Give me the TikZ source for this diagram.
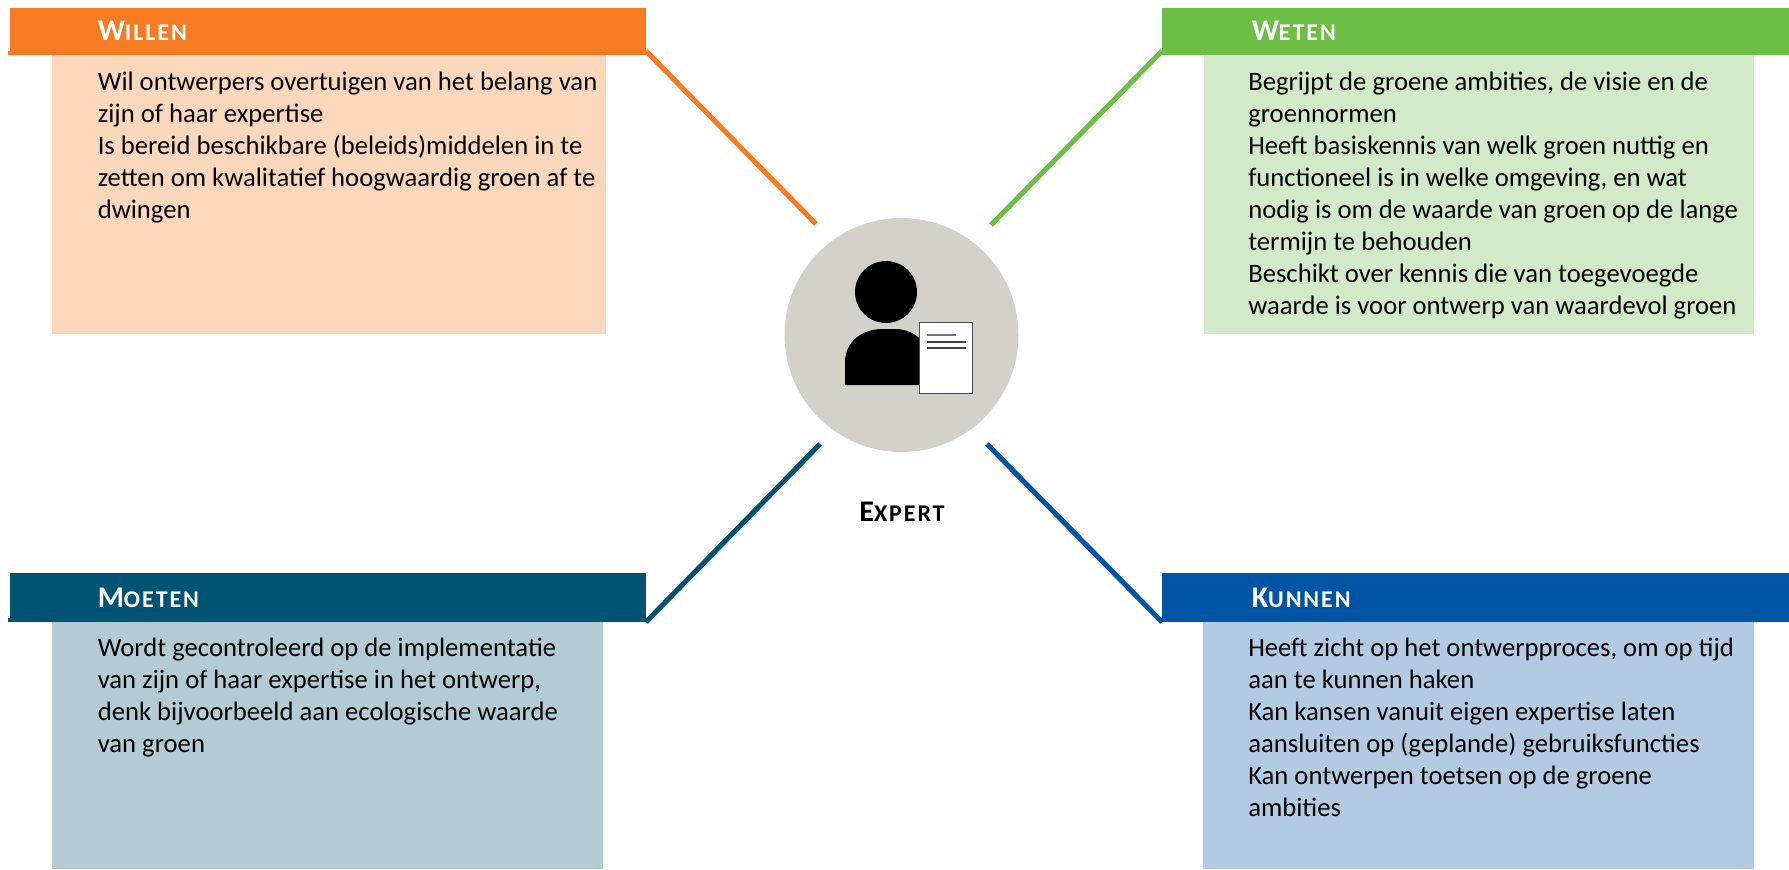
\documentclass[tikz,border=0pt]{standalone}
\usepackage{fontspec}
\setmainfont{Carlito}
\definecolor{orA}{HTML}{F77B22}\definecolor{orB}{HTML}{FBD7BC}
\definecolor{grA}{HTML}{6DBE45}\definecolor{grB}{HTML}{D3EAC8}
\definecolor{teA}{HTML}{005373}\definecolor{teB}{HTML}{B2CBD5}
\definecolor{blA}{HTML}{0054A4}\definecolor{blB}{HTML}{B3CBE2}
\definecolor{circ}{HTML}{D3D1CA}
\newcommand{\bigc}[1]{{\fontsize{22.5pt}{24pt}\selectfont\addfontfeature{LetterSpace=6}#1}}
\newcommand{\smc}[1]{{\fontsize{18pt}{24pt}\selectfont\addfontfeature{LetterSpace=8}#1}}
\tikzset{
 pxbox/.style={inner sep=0pt,outer sep=0pt,draw=none,anchor=north west,rectangle},
 headtxt/.style={inner sep=0pt,anchor=base west,text=white,font=\bfseries},
 bodytxt/.style={inner sep=0pt,anchor=north west,align=left,font=\fontsize{20pt}{24pt}\selectfont,text=black},
 conn/.style={line width=3.8pt}
}
\begin{document}
\begin{tikzpicture}[x=0.75pt,y=-0.75pt]
\useasboundingbox (0,0) rectangle (1789,869);
% bodies
\node[pxbox,fill=orB,minimum width=554*0.75pt,minimum height=279*0.75pt] (b1) at (52,55) {};
\node[pxbox,fill=grB,minimum width=550*0.75pt,minimum height=279*0.75pt] (b2) at (1204,55) {};
\node[pxbox,fill=teB,minimum width=551*0.75pt,minimum height=247*0.75pt] (b3) at (52,622) {};
\node[pxbox,fill=blB,minimum width=551*0.75pt,minimum height=247*0.75pt] (b4) at (1203,622) {};
% headers
\node[pxbox,fill=orA,minimum width=636*0.75pt,minimum height=47*0.75pt] (h1) at (10,8) {};
\node[pxbox,fill=grA,minimum width=627*0.75pt,minimum height=47*0.75pt] (h2) at (1162,8) {};
\node[pxbox,fill=teA,minimum width=636*0.75pt,minimum height=49*0.75pt] (h3) at (10,573) {};
\node[pxbox,fill=blA,minimum width=627*0.75pt,minimum height=49*0.75pt] (h4) at (1162,573) {};
\fill[orA] (8,51) rectangle (10,55);
\fill[teA] (8,618) rectangle (10,622);
\node[headtxt] (t1) at (97.5,40) {\bigc{W}\smc{ILLEN}};
\node[headtxt] (t2) at (1251.5,40) {\bigc{W}\smc{ETEN}};
\node[headtxt] (t3) at (97.5,607) {\bigc{M}\smc{OETEN}};
\node[headtxt] (t4) at (1251.5,607) {\bigc{K}\smc{UNNEN}};
% body text
\node[bodytxt] (x1) at (97.5,71.5) {Wil ontwerpers overtuigen van het belang van\\zijn of haar expertise\\Is bereid beschikbare (beleids)middelen in te\\zetten om kwalitatief hoogwaardig groen af te\\dwingen};
\node[bodytxt] (x2) at (1248,71.5) {Begrijpt de groene ambities, de visie en de\\groennormen\\Heeft basiskennis van welk groen nuttig en\\functioneel is in welke omgeving, en wat\\nodig is om de waarde van groen op de lange\\termijn te behouden\\Beschikt over kennis die van toegevoegde\\waarde is voor ontwerp van waardevol groen};
\node[bodytxt] (x3) at (97.5,638) {Wordt gecontroleerd op de implementatie\\van zijn of haar expertise in het ontwerp,\\denk bijvoorbeeld aan ecologische waarde\\van groen};
\node[bodytxt] (x4) at (1248,638) {Heeft zicht op het ontwerpproces, om op tijd\\aan te kunnen haken\\Kan kansen vanuit eigen expertise laten\\aansluiten op (geplande) gebruiksfuncties\\Kan ontwerpen toetsen op de groene\\ambities};
% circle
\node[circle,fill=circ,minimum size=234*0.75pt,inner sep=0pt] (c) at (901.5,335) {};
\fill[black] (886,292) circle (31);
\fill[black] (845,385) -- (845,362) .. controls (845,342) and (862,329) .. (882,329) -- (895,329) .. controls (905,329) and (915,333) .. (921,340) -- (921,385) -- cycle;
\node[pxbox,fill=white,draw=black!70,line width=0.8pt,minimum width=53*0.75pt,minimum height=71*0.75pt] (doc) at (919.5,322.5) {};
\draw[black!55,line width=1pt] (927,335) -- (956,335);
\draw[black!75,line width=1pt] (927,342) -- (966,342);
\draw[black!75,line width=1pt] (927,348) -- (966,348);
\node[inner sep=0pt,anchor=base,font=\bfseries] (e) at (902,521) {\bigc{E}\smc{XPERT}};
% connectors
\coordinate (c1) at (816,224);
\coordinate (c2) at (991,225);
\coordinate (c3) at (820,444);
\coordinate (c4) at (987,444);
\draw[conn,orA] ([yshift=3pt]h1.south east) -- (c1);
\draw[conn,grA] ([yshift=3pt]h2.south west) -- (c2);
\draw[conn,teA] (h3.south east) -- (c3);
\draw[conn,blA] (h4.south west) -- (c4);
\end{tikzpicture}
\end{document}
